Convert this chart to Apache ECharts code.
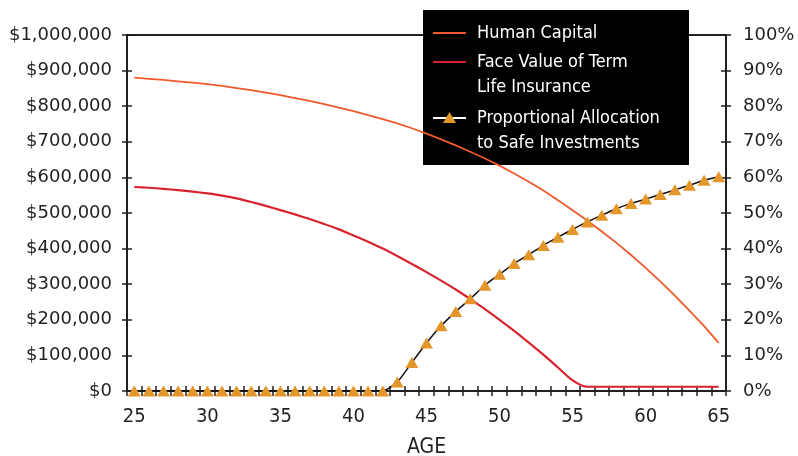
<!DOCTYPE html>
<html>
<head>
<meta charset="utf-8">
<script src="https://cdn.jsdelivr.net/npm/echarts@6/dist/echarts.min.js"></script>
<style>
  html, body { margin: 0; padding: 0; background: #fff; }
  #chart { width: 798px; height: 456px; }
</style>
</head>
<body>
<div id="chart"></div>
<script>
// Age categories (x axis)
const ages = [25, 26, 27, 28, 29, 30, 31, 32, 33, 34, 35, 36, 37, 38, 39, 40,
  41, 42, 43, 44, 45, 46, 47, 48, 49, 50, 51, 52, 53, 54, 55, 56, 57, 58, 59, 60,
  61, 62, 63, 64, 65];

// Present value of future earnings, dollars
const humanCapital = [880000, 877000, 874000, 870000, 866000, 862000, 857000, 851000,
  845000, 838000, 831000, 823000, 815000, 806000, 796000, 786000, 775000, 764000,
  752000, 738000, 723000, 707000, 690000, 672000, 653000, 633000, 611000, 588000,
  563000, 536000, 508000, 479000, 448000, 416000, 382000, 346000, 308000, 268000,
  226000, 182000, 135000];

// Face value of term life insurance, dollars
const termLifeFaceValue = [573000, 571000, 568000, 564000, 560000, 555000, 549000,
  541000, 531000, 520000, 508000, 496000, 483000, 469000, 454000, 437000, 419000,
  400000, 379000, 357000, 334000, 310000, 285000, 258000, 230000, 200000, 169000,
  136000, 102000, 66000, 30000, 12000, 12000, 12000, 12000, 12000, 12000, 12000,
  12000, 12000, 12000];

// Proportional allocation to safe investments, percent
const safeAllocationPct = [0, 0, 0, 0, 0, 0, 0, 0, 0, 0, 0, 0, 0, 0, 0, 0, 0, 0,
  2.5, 8.0, 13.5, 18.3, 22.3, 25.9, 29.7, 32.8, 35.8, 38.3, 40.9, 43.2, 45.4, 47.5,
  49.4, 51.2, 52.7, 53.9, 55.2, 56.5, 57.8, 59.2, 60.2];

const seriesNames = ['Human Capital', 'Face Value of Term\nLife Insurance',
  'Proportional Allocation\nto Safe Investments'];

const dollarMax = 1000000, dollarStep = 100000;
const pctMax = 100, pctStep = 10;

const C_HUMAN = '#ef5a2c';
const C_TERM = '#d8232f';
const C_TRI = '#e3962a';
const C_AXIS = '#231f20';

const labelFont = 'DejaVu Sans';
const condFont = '"DejaVu Sans Condensed", "DejaVu Sans", sans-serif';

const chart = echarts.init(document.getElementById('chart'), null, { renderer: 'canvas' });

function valueAxis(pos, max, step, inside, withLabels, fmt, margin) {
  return {
    type: 'value', position: pos, min: 0, max: max, interval: step,
    splitLine: { show: false },
    axisLine: { show: withLabels, lineStyle: { color: C_AXIS, width: 2 } },
    axisTick: { show: true, inside: inside, length: 5, lineStyle: { color: C_AXIS, width: 1.5 } },
    axisLabel: { show: withLabels, formatter: fmt, color: C_AXIS, fontFamily: labelFont, fontSize: 18, margin: margin }
  };
}

const option = {
  animation: false,
  backgroundColor: '#fff',
  grid: {
    left: 127, right: 72, top: 35, bottom: 65,
    containLabel: false, outerBoundsMode: 'none',
    show: true, borderColor: C_AXIS, borderWidth: 2, backgroundColor: 'transparent'
  },
  xAxis: [
    {
      type: 'category', data: ages, boundaryGap: true, position: 'bottom',
      name: 'AGE', nameLocation: 'middle', nameGap: 46,
      nameTextStyle: { color: C_AXIS, fontFamily: condFont, fontSize: 21 },
      axisLine: { lineStyle: { color: C_AXIS, width: 2 } },
      axisTick: { show: true, interval: 0, length: 5, lineStyle: { color: C_AXIS, width: 1.5 } },
      axisLabel: { interval: 4, color: C_AXIS, fontFamily: condFont, fontSize: 20, margin: 16 },
      splitLine: { show: false }
    },
    {
      type: 'category', data: ages, boundaryGap: true, position: 'bottom',
      axisLine: { show: false },
      axisTick: { show: true, inside: true, interval: 0, length: 5, lineStyle: { color: C_AXIS, width: 1.5 } },
      axisLabel: { show: false },
      splitLine: { show: false }
    }
  ],
  yAxis: [
    valueAxis('left', dollarMax, dollarStep, false, true,
      v => '$' + v.toLocaleString('en-US'), 15),
    valueAxis('right', pctMax, pctStep, false, true, '{value}%', 17),
    valueAxis('left', dollarMax, dollarStep, true, false, null, 0),
    valueAxis('right', pctMax, pctStep, true, false, null, 0)
  ],
  series: [
    {
      name: seriesNames[0], type: 'line', xAxisIndex: 0, yAxisIndex: 0,
      data: humanCapital, symbol: 'none', smooth: false,
      lineStyle: { color: C_HUMAN, width: 1.8, join: 'round' }, z: 3
    },
    {
      name: seriesNames[1], type: 'line', xAxisIndex: 0, yAxisIndex: 0,
      data: termLifeFaceValue, symbol: 'none', smooth: 0.25,
      lineStyle: { color: C_TERM, width: 2.2, join: 'round' }, z: 3
    },
    {
      name: seriesNames[2], type: 'line', xAxisIndex: 0, yAxisIndex: 1,
      data: safeAllocationPct, symbol: 'triangle', symbolSize: [13, 11],
      showSymbol: true, showAllSymbol: true,
      smooth: 0.2,
      lineStyle: { color: '#111', width: 1.5 },
      itemStyle: { color: C_TRI, borderWidth: 0 }, z: 4
    }
  ],
  graphic: [
    {
      type: 'group', left: 423, top: 10, z: 100,
      children: [
        { type: 'rect', shape: { x: 0, y: 0, width: 266, height: 155 }, style: { fill: '#000' } },
        { type: 'line', shape: { x1: 10, y1: 23, x2: 43, y2: 23 }, style: { stroke: C_HUMAN, lineWidth: 2 } },
        { type: 'text', style: { x: 54, y: 23, text: seriesNames[0], fill: '#fff', font: '18px ' + condFont, verticalAlign: 'middle' } },
        { type: 'line', shape: { x1: 10, y1: 52, x2: 43, y2: 52 }, style: { stroke: C_TERM, lineWidth: 2 } },
        { type: 'text', style: { x: 54, y: 39.5, text: seriesNames[1], fill: '#fff', font: '18px ' + condFont, lineHeight: 25, verticalAlign: 'top' } },
        { type: 'line', shape: { x1: 10, y1: 108, x2: 43, y2: 108 }, style: { stroke: '#fff', lineWidth: 2 } },
        { type: 'polygon', shape: { points: [[26.5, 102], [33, 113], [20, 113]] }, style: { fill: C_TRI } },
        { type: 'text', style: { x: 54, y: 95.5, text: seriesNames[2], fill: '#fff', font: '18px ' + condFont, lineHeight: 25, verticalAlign: 'top' } }
      ]
    }
  ]
};

chart.setOption(option);
</script>
</body>
</html>
